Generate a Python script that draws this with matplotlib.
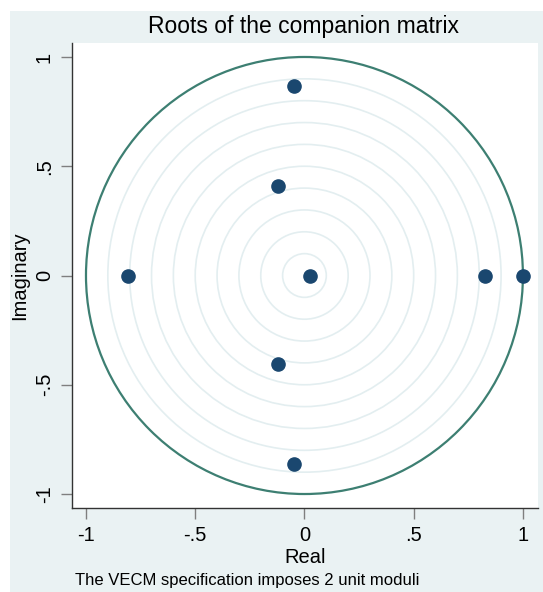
import matplotlib.pyplot as plt
import numpy as np
from matplotlib.patches import Circle, Rectangle

# eigenvalues
real = [-0.048, -0.122, -0.807, 0.025, 0.825, 1.0, -0.122, -0.048]
imag = [0.867, 0.41, 0.0, 0.0, 0.0, 0.0, -0.405, -0.862]
grid_radii = [0.1, 0.2, 0.3, 0.4, 0.5, 0.6, 0.7, 0.8, 0.9]
ticks = [-1, -0.5, 0, 0.5, 1]
tick_labels = ['-1', '-.5', '0', '.5', '1']

plt.rcParams['font.family'] = ['Liberation Sans', 'DejaVu Sans']

bg = '#EAF2F3'
fig = plt.figure(figsize=(5.43, 5.92), dpi=100)
fig.patches.append(Rectangle((10 / 543, 0), 1, 1 - 11 / 592, transform=fig.transFigure,
                             facecolor=bg, edgecolor='none', zorder=-10))

ax = fig.add_axes([72 / 543, 1 - 508 / 592, 466 / 543, 465 / 592])
ax.set_facecolor('white')

# light reference rings, then the unit circle
for r in grid_radii:
    ax.add_patch(Circle((0, 0), r, fill=False, edgecolor='#E3EEF0', lw=1.2))
ax.add_patch(Circle((0, 0), 1, fill=False, edgecolor='#3D7F72', lw=1.6))

ax.plot(real, imag, 'o', color='#1A476F', ms=9.5, zorder=5)

ax.set_xlim(-1.064, 1.069)
ax.set_ylim(-1.064, 1.064)
ax.set_xticks(ticks)
ax.set_xticklabels(tick_labels)
ax.set_yticks(ticks)
ax.set_yticklabels(tick_labels, rotation=90, va='center')
ax.tick_params(axis='both', length=8, width=1, color='#7F7F7F', labelsize=14.5, pad=5)

for s in ['top', 'right']:
    ax.spines[s].set_visible(False)
for s in ['left', 'bottom']:
    ax.spines[s].set_color('#333333')
    ax.spines[s].set_linewidth(1)

ax.set_xlabel('Real', fontsize=14.5, labelpad=2)
ax.set_ylabel('Imaginary', fontsize=14.5, labelpad=4)

fig.text(304 / 543, 1 - 26 / 592, 'Roots of the companion matrix', fontsize=16.5,
         ha='center', va='center')
fig.text(75 / 543, 1 - 581 / 592, 'The VECM specification imposes 2 unit moduli',
         fontsize=12, ha='left', va='center')

fig.savefig('out.png', dpi=100)
